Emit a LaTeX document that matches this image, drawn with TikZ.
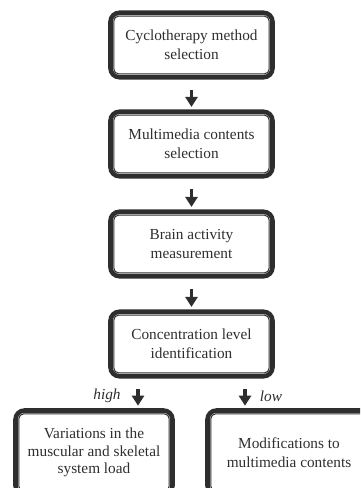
\documentclass[tikz,border=0pt]{standalone}
\usepackage{fontspec}
\setmainfont{Liberation Serif}
\usetikzlibrary{arrows.meta}
\definecolor{ink}{HTML}{2E2E2E}
\begin{document}
\begin{tikzpicture}[x=1pt,y=-1pt,
  box/.style={draw=ink, line width=4.6pt, rounded corners=9pt, minimum height=64.5pt,
    align=center, font=\fontsize{15.3}{19}\selectfont, text=ink, inner sep=0pt},
  innerline/.style={draw=ink, line width=1pt, rounded corners=5pt},
  flow/.style={draw=ink, line width=3.3pt, -{Triangle[width=12pt,length=10pt]},
    shorten <=10.5pt, shorten >=2.5pt},
  lab/.style={font=\fontsize{15.3}{19}\selectfont\itshape, text=ink, inner sep=0pt}
]
\useasboundingbox (0,0) rectangle (360,488);
\clip (0,0) rectangle (360,488);

\node[box, minimum width=162pt] (b1) at (191.5,45) {Cyclotherapy method\\selection};
\node[box, minimum width=162pt] (b2) at (191.5,144) {Multimedia contents\\selection};
\node[box, minimum width=162pt] (b3) at (191.5,244) {Brain activity\\measurement};
\node[box, minimum width=162pt] (b4) at (191.5,344) {Concentration level\\identification};
\node[box, minimum width=157pt, minimum height=84pt, font=\fontsize{15.3}{17.5}\selectfont] (l) at (94,452.5) {Variations in the\\muscular and skeletal\\system load};
\node[box, minimum width=163pt, minimum height=84pt] (r) at (289,452.5) {Modifications to\\multimedia contents};

\foreach \n in {b1,b2,b3,b4,l,r}{
  \draw[innerline] ([xshift=5.6pt,yshift=5.6pt]\n.south west) rectangle ([xshift=-5.6pt,yshift=-5.6pt]\n.north east);
}

\draw[flow] (b1) -- (b2);
\draw[flow] (b2) -- (b3);
\draw[flow] (b3) -- (b4);
\draw[flow] ([xshift=-53.5pt]b4.south) -- ([xshift=-53.5pt]b4.south |- l.north);
\draw[flow] ([xshift=53.5pt]b4.south) -- ([xshift=53.5pt]b4.south |- r.north);

\node[lab] (hi) at (107,396) {high};
\node[lab] (lo) at (271,396) {low};
\end{tikzpicture}
\end{document}
